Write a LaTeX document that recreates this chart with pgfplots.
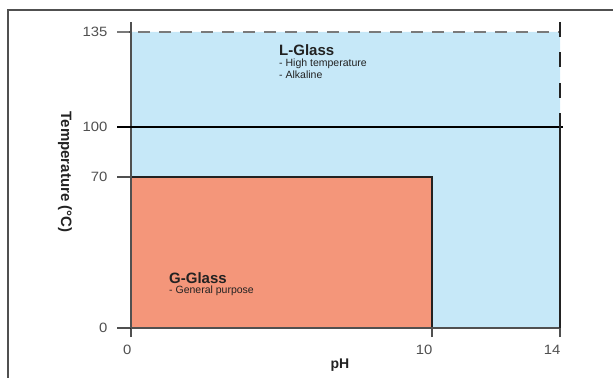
\documentclass[border=0pt]{standalone}
\usepackage{fontspec}
\setmainfont{Liberation Sans}
\newfontfamily\tickfont{Liberation Sans}[FakeStretch=1.1]
\usepackage{pgfplots}
\pgfplotsset{compat=1.18}
\definecolor{lblue}{HTML}{C6E8F8}
\definecolor{salmon}{HTML}{F4967A}
\definecolor{axgray}{HTML}{505050}
\definecolor{dashgray}{HTML}{7A7A7A}
\definecolor{txt}{HTML}{222222}
\begin{document}
\begin{tikzpicture}[x=1bp,y=1bp]
\path[use as bounding box] (0,0) rectangle (613,377);
\begin{scope}
\clip (0,0) rectangle (613,377);
\draw[axgray, line width=1.5bp] (8,-10) rectangle (640,367);
\end{scope}
\begin{axis}[
  at={(131bp,49bp)}, anchor=south west,
  x=1bp, y=1bp,
  x coord trafo/.code={\pgfmathparse{(#1<=10) ? 30.1*#1 : 301+32*(#1-10)}},
  y coord trafo/.code={\pgfmathparse{(#1<=70) ? #1*2.157143 : ((#1<=100) ? 151+(#1-70)*1.666667 : 201+(#1-100)*2.714286)}},
  xmin=0, xmax=14, ymin=0, ymax=138.7,
  enlargelimits=false, clip=false,
  axis line style={draw=none},
  no markers,
  tick align=outside,
  major tick length=14bp,
  xtick pos=bottom, ytick pos=left,
  xtick={0,10,14}, xticklabels={0,10,14},
  ytick={0,70,100,135}, yticklabels={0,70,100,135},
  tick style={axgray, line width=1.1bp},
  xtick style={/pgfplots/major tick length=9bp},
  /pgf/number format/assume math mode=true,
  ticklabel style={font=\tickfont\fontsize{13.5bp}{15bp}\selectfont, text=axgray},
  xticklabel style={anchor=north east, xshift=4bp},
  yticklabel style={xshift=-6bp},
]
\addplot[fill=lblue, draw=none, mark=none] coordinates {(0,0) (0,135) (14,135) (14,0)} \closedcycle;
\addplot[fill=salmon, draw=txt, line width=1.3bp, mark=none] coordinates {(0,0) (0,70) (10,70) (10,0)} \closedcycle;
\addplot[axgray, line width=1.3bp, mark=none] coordinates {(0,0) (0,138.7)};
\addplot[axgray, line width=1.3bp, mark=none] coordinates {(0,0) (14,0)};
\addplot[black, line width=1.1bp, mark=none] coordinates {(-0.465,100) (14.1,100)};
\addplot[dashgray, line width=1.3bp, mark=none, dash pattern=on 12bp off 9bp] coordinates {(-0.465,135) (14,135)};
\addplot[txt, line width=1.3bp, mark=none] coordinates {(14,0) (14,100)};
\addplot[txt, line width=1.3bp, mark=none, dash pattern=on 15bp off 15.5bp] coordinates {(14,138.7) (14,100)};
\end{axis}
\node[rotate=-90, font=\bfseries\fontsize{15bp}{17bp}\selectfont, text=txt] at (65,205) {Temperature (°C)};
\node[font=\bfseries\fontsize{14bp}{16bp}\selectfont, text=txt] at (340,12) {pH};
\node[anchor=base west, inner sep=0, font=\bfseries\fontsize{15bp}{17bp}\selectfont, text=txt] at (279,322) {L-Glass};
\node[anchor=base west, inner sep=0, font=\fontsize{10.5bp}{12bp}\selectfont, text=txt] at (279,310.5) {- High temperature};
\node[anchor=base west, inner sep=0, font=\fontsize{10.5bp}{12bp}\selectfont, text=txt] at (279,298.5) {- Alkaline};
\node[anchor=base west, inner sep=0, font=\bfseries\fontsize{15bp}{17bp}\selectfont, text=txt] at (169,94) {G-Glass};
\node[anchor=base west, inner sep=0, font=\fontsize{10.5bp}{12bp}\selectfont, text=txt] at (169,83.5) {- General purpose};
\end{tikzpicture}
\end{document}
